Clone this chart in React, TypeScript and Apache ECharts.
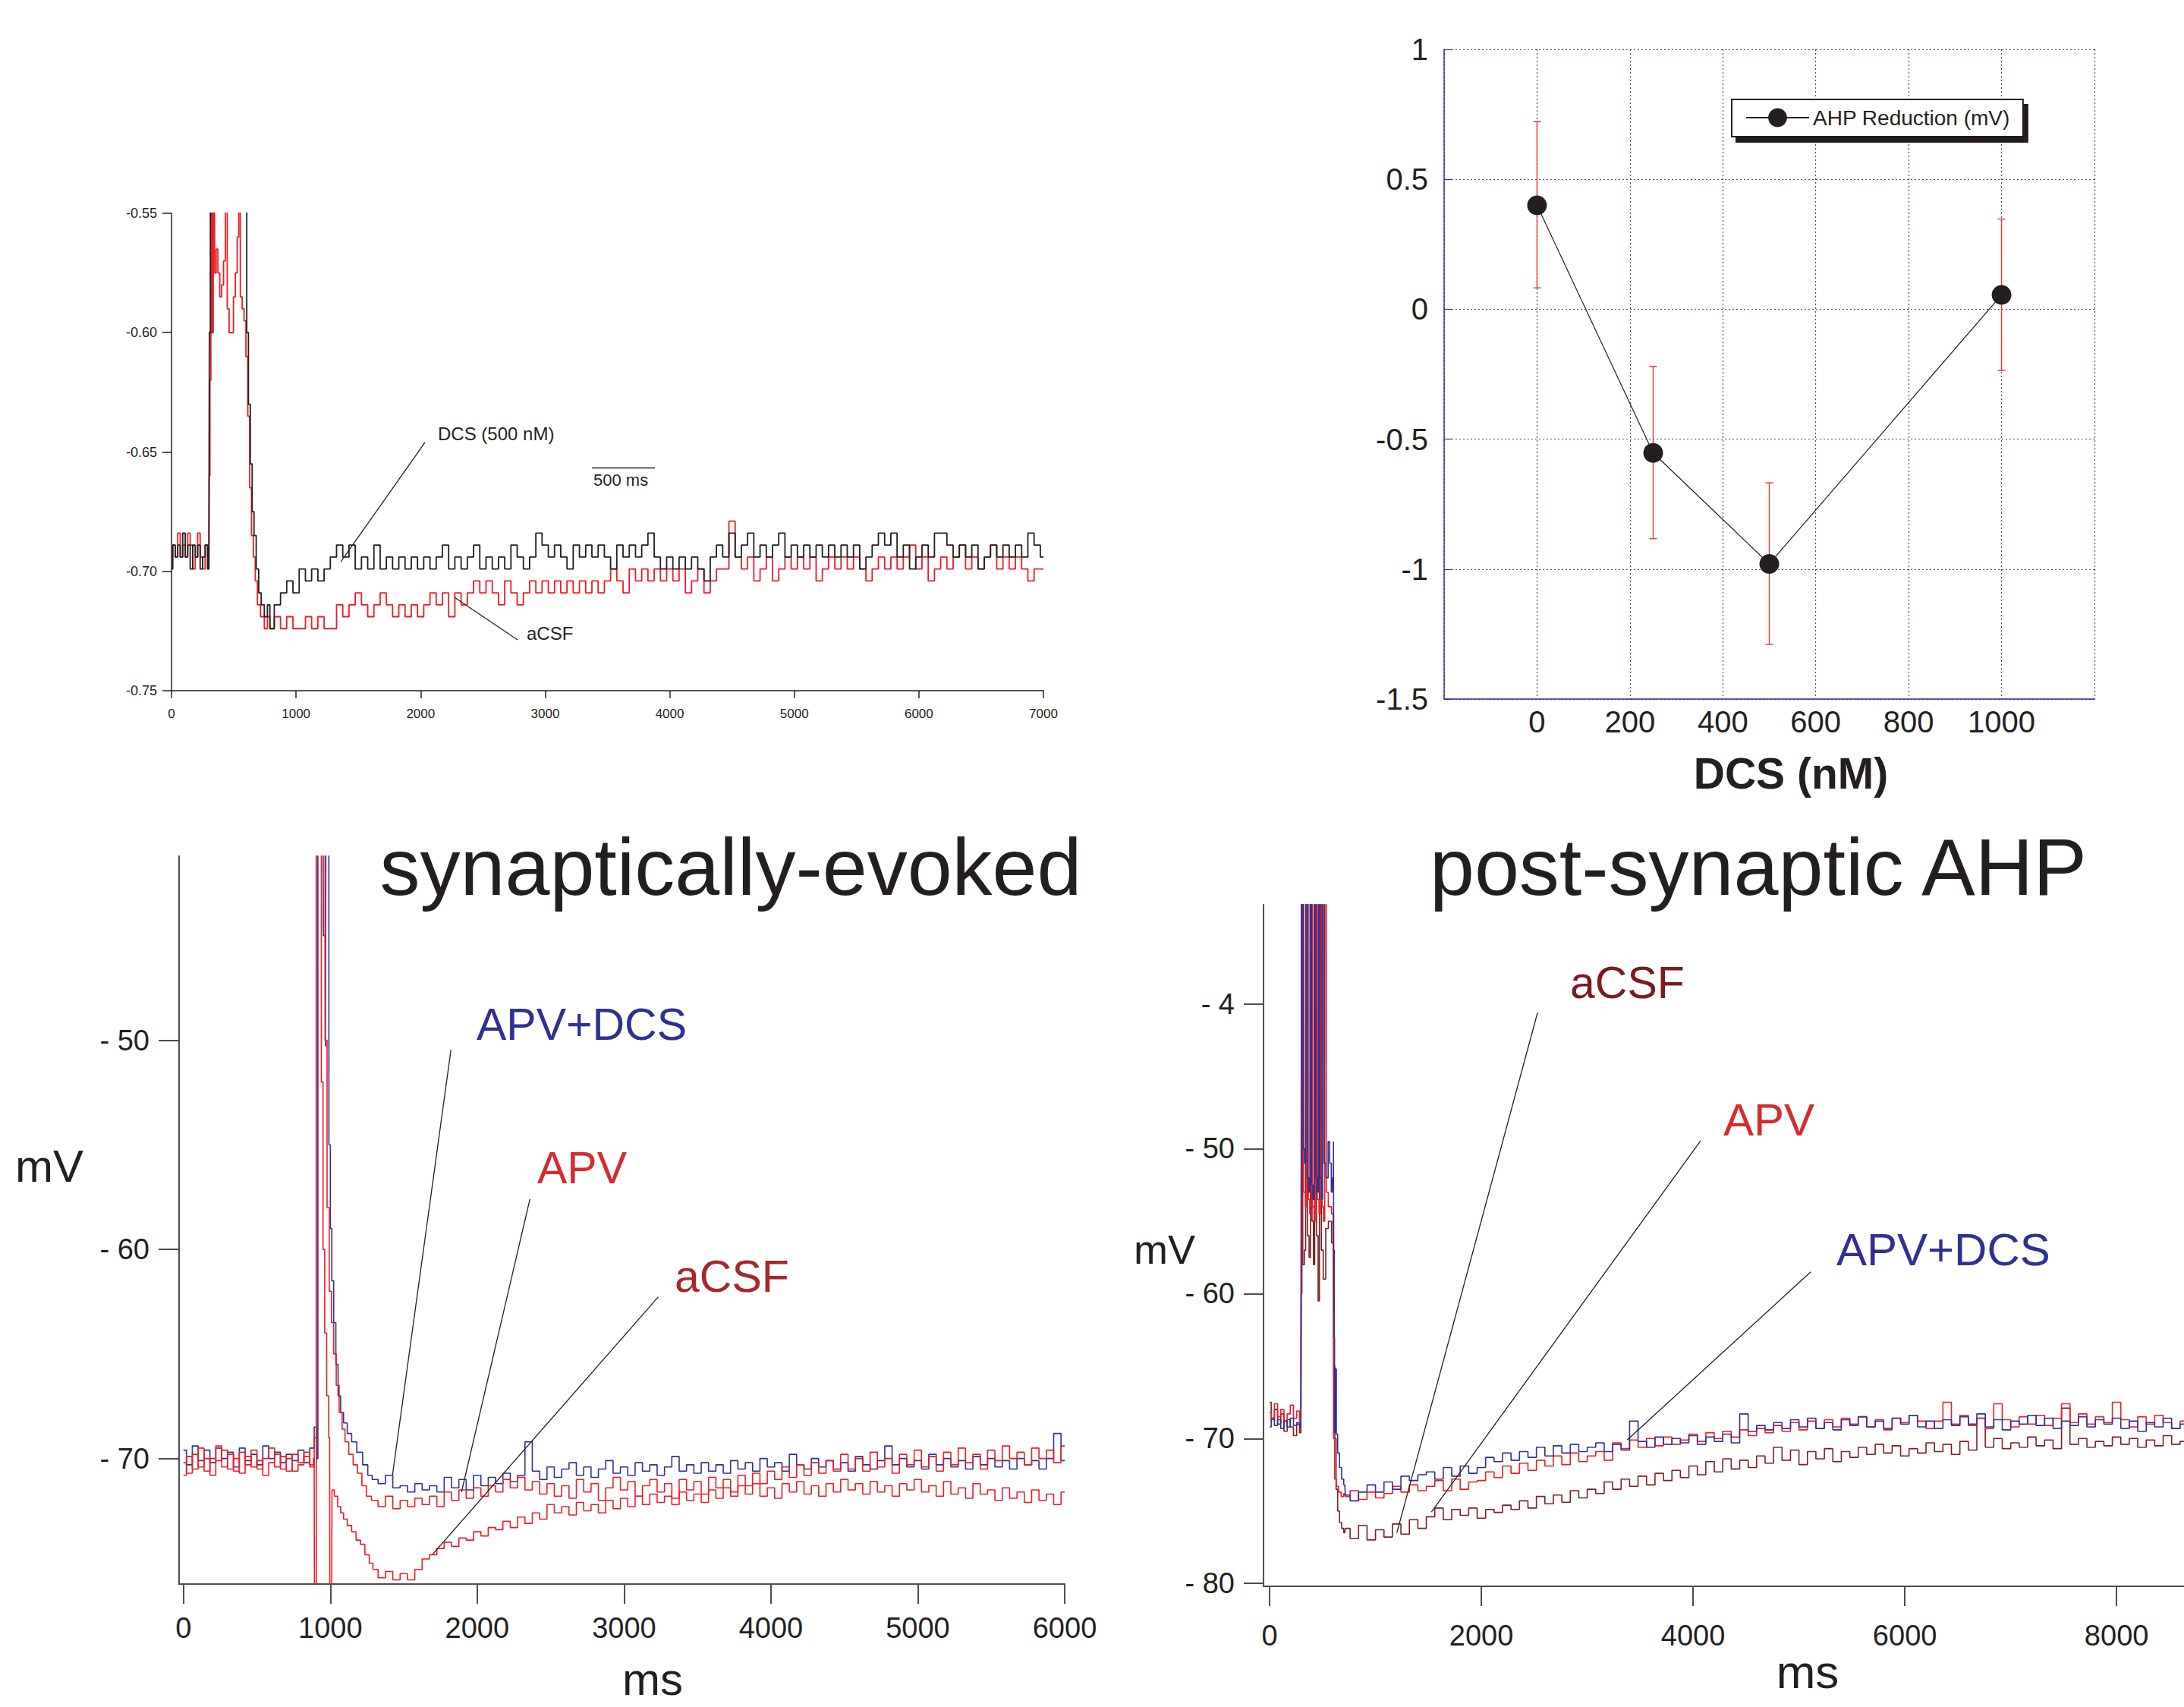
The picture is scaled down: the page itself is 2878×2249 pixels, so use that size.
import React, { useEffect, useRef } from 'react';
import * as echarts from 'echarts';

const FONT = '"Liberation Sans", Arial, Helvetica, sans-serif';
const INK = '#231f20';
const RED = '#ed1c24';
const BLUE = '#2e3192';
const MAROON = '#7b1f24';
const GRID_BLUE = '#3b4aa6';
const AXIS_GRAY = '#4d4d4f';

// ---------------- Panel A (top-left): DCS (500 nM) vs aCSF, V ----------------
const aXTicks = [0, 1000, 2000, 3000, 4000, 5000, 6000, 7000];
const aYTicks = [-0.75, -0.7, -0.65, -0.6, -0.55];
const aTailStart = 800;
const aTailStep = 50;
const aAcsfPre = [[0,-0.694],[20,-0.689],[40,-0.694],[60,-0.684],[80,-0.694],[100,-0.689],[120,-0.694],[140,-0.684],[160,-0.689],[180,-0.699],[200,-0.694],[220,-0.684],[240,-0.694],[260,-0.699],[280,-0.689],[300,-0.699],[305,-0.66],[312,-0.62],[320,-0.545],[330,-0.6],[340,-0.545],[352,-0.575],[365,-0.565],[380,-0.575],[395,-0.585],[410,-0.58],[425,-0.57],[440,-0.545],[455,-0.59],[470,-0.6],[490,-0.6],[505,-0.585],[520,-0.575],[535,-0.56],[545,-0.545],[560,-0.585],[575,-0.59],[590,-0.595],[605,-0.61],[620,-0.635],[635,-0.665],[650,-0.685],[665,-0.694],[680,-0.704],[700,-0.714],[730,-0.719],[760,-0.724],[780,-0.719]];
const aAcsfTail = [
  -0.724,-0.719,-0.724,-0.719,-0.724,-0.724,-0.719,-0.724,-0.719,-0.724,
  -0.724,-0.714,-0.719,-0.714,-0.709,-0.714,-0.719,-0.714,-0.709,-0.714,
  -0.719,-0.714,-0.719,-0.714,-0.719,-0.714,-0.709,-0.714,-0.709,-0.719,
  -0.709,-0.714,-0.709,-0.704,-0.709,-0.704,-0.709,-0.714,-0.704,-0.709,
  -0.714,-0.709,-0.704,-0.709,-0.704,-0.709,-0.704,-0.709,-0.704,-0.709,
  -0.704,-0.709,-0.704,-0.709,-0.704,-0.699,-0.704,-0.709,-0.699,-0.704,
  -0.699,-0.704,-0.699,-0.704,-0.699,-0.704,-0.699,-0.709,-0.704,-0.699,
  -0.709,-0.704,-0.699,-0.699,-0.679,-0.694,-0.699,-0.694,-0.704,-0.699,
  -0.694,-0.704,-0.699,-0.694,-0.699,-0.694,-0.699,-0.694,-0.704,-0.699,
  -0.694,-0.699,-0.694,-0.699,-0.694,-0.699,-0.704,-0.699,-0.694,-0.699,
  -0.694,-0.699,-0.694,-0.689,-0.699,-0.694,-0.704,-0.699,-0.694,-0.699,
  -0.694,-0.689,-0.699,-0.694,-0.699,-0.694,-0.689,-0.699,-0.694,-0.699,
  -0.694,-0.699,-0.704,-0.699,-0.699];
const aDcsPre = [[0,-0.699],[20,-0.689],[40,-0.694],[60,-0.689],[80,-0.694],[100,-0.684],[120,-0.694],[140,-0.689],[160,-0.699],[180,-0.689],[200,-0.694],[220,-0.689],[240,-0.699],[260,-0.694],[280,-0.689],[300,-0.699],[308,-0.6],[316,-0.53],[598,-0.53],[610,-0.6],[625,-0.63],[640,-0.655],[655,-0.675],[670,-0.685],[690,-0.699],[710,-0.709],[730,-0.714],[760,-0.719],[780,-0.714]];
const aDcsTail = [
  -0.724,-0.714,-0.709,-0.704,-0.709,-0.699,-0.704,-0.699,-0.704,-0.699,
  -0.694,-0.689,-0.694,-0.689,-0.699,-0.694,-0.699,-0.689,-0.699,-0.694,
  -0.699,-0.694,-0.699,-0.694,-0.699,-0.694,-0.699,-0.694,-0.689,-0.699,
  -0.694,-0.699,-0.694,-0.689,-0.699,-0.694,-0.699,-0.694,-0.699,-0.689,
  -0.694,-0.699,-0.694,-0.684,-0.689,-0.694,-0.689,-0.694,-0.699,-0.689,
  -0.694,-0.689,-0.694,-0.689,-0.694,-0.699,-0.689,-0.694,-0.689,-0.694,
  -0.689,-0.684,-0.694,-0.699,-0.694,-0.699,-0.694,-0.699,-0.694,-0.699,
  -0.704,-0.694,-0.689,-0.694,-0.684,-0.694,-0.689,-0.684,-0.694,-0.689,
  -0.694,-0.689,-0.684,-0.694,-0.689,-0.694,-0.689,-0.694,-0.689,-0.694,
  -0.689,-0.694,-0.689,-0.694,-0.689,-0.699,-0.694,-0.689,-0.684,-0.689,
  -0.684,-0.694,-0.689,-0.699,-0.694,-0.689,-0.694,-0.684,-0.684,-0.689,
  -0.694,-0.689,-0.694,-0.689,-0.699,-0.694,-0.689,-0.694,-0.689,-0.694,
  -0.689,-0.694,-0.684,-0.689,-0.694];
const aLeaders = [
  [[2035, -0.646], [1359, -0.696]],
  [[2272, -0.7109], [2778, -0.7287]],
];
const aScaleBar = [[3375, -0.6565], [3881, -0.6565]];

// ---------------- Panel B (top-right): AHP reduction vs DCS dose ----------------
const bDose = [0, 250, 500, 1000];
const bMean = [0.40, -0.553, -0.98, 0.055];
const bLow = [0.082, -0.883, -1.29, -0.236];
const bHigh = [0.722, -0.22, -0.668, 0.347];

// ---------------- Panel C (bottom-left): synaptically-evoked ----------------
const cXTicks = [0, 1000, 2000, 3000, 4000, 5000, 6000];
const cYTicks = [-50, -60, -70];
const cTailStart = 1300;
const cTailStep = 50;
const cBluePre = [[0,-69.6],[40,-70.3],[80,-69.4],[120,-70.1],[160,-69.6],[200,-70.2],[240,-69.5],[280,-70.0],[320,-69.7],[360,-70.4],[400,-69.5],[440,-70.1],[480,-69.8],[520,-70.3],[560,-69.4],[600,-70.0],[640,-69.7],[680,-70.2],[720,-69.8],[760,-70.1],[800,-69.6],[840,-70.2],[880,-69.5],[900,-68.5],[910,-70.0],[920,-38],[950,-38],[955,-45],[965,-45],[968,-50.3],[972,-38],[985,-38],[995,-55],[1005,-59],[1015,-61.5],[1030,-63.5],[1045,-65.5],[1060,-67],[1080,-67.8],[1100,-68.3],[1130,-68.8],[1160,-69.2],[1200,-69.7],[1240,-70.3],[1270,-70.8]];
const cBlueTail = [
  -71.0,-71.2,-70.8,-71.4,-71.3,-71.6,-71.2,-71.5,-71.3,-71.6,
  -70.9,-71.4,-71.0,-71.5,-70.8,-71.3,-70.9,-71.2,-70.7,-71.1,
  -70.8,-69.2,-70.6,-71.0,-70.4,-70.9,-70.5,-70.2,-70.8,-70.4,
  -70.9,-70.5,-70.1,-70.7,-70.4,-70.8,-70.2,-70.6,-70.3,-70.8,
  -70.4,-69.9,-70.6,-70.3,-70.7,-70.2,-70.6,-70.3,-70.7,-70.1,
  -70.5,-70.2,-70.6,-70.0,-70.4,-70.2,-70.6,-69.8,-70.3,-70.5,
  -70.0,-70.4,-70.1,-70.5,-70.2,-70.6,-69.9,-70.3,-70.5,-70.1,
  -69.4,-70.3,-70.0,-70.4,-70.1,-70.5,-69.8,-70.3,-70.0,-70.4,
  -70.1,-70.5,-69.9,-70.3,-70.0,-70.4,-70.1,-70.5,-70.0,-70.3,
  -70.1,-70.5,-70.0,-68.8,-70.1];
const cApvPre = [[0,-70.8],[40,-69.9],[80,-70.5],[120,-69.5],[160,-70.6],[200,-70.0],[240,-69.4],[280,-70.4],[320,-69.8],[360,-70.6],[400,-69.7],[440,-70.3],[480,-69.6],[520,-70.5],[560,-70.0],[600,-69.5],[640,-70.4],[680,-69.9],[720,-70.6],[760,-69.8],[800,-70.2],[840,-69.7],[880,-70.3],[890,-70.0],[895,-80],[902,-80],[906,-38],[958,-38],[970,-50],[985,-58],[1000,-62],[1015,-63.5],[1030,-65],[1050,-66.5],[1070,-67.8],[1090,-68.6],[1110,-69.2],[1140,-69.8],[1170,-70.3],[1200,-70.7],[1230,-71.3],[1260,-71.8]];
const cApvTail = [
  -72.0,-72.3,-71.8,-72.4,-72.0,-72.3,-71.9,-72.2,-71.8,-72.3,
  -71.6,-72.0,-71.5,-71.9,-71.4,-71.8,-71.3,-71.6,-71.0,-71.4,
  -70.9,-71.5,-71.1,-71.7,-71.2,-71.8,-71.3,-71.9,-71.0,-71.6,
  -71.2,-72.0,-71.4,-70.9,-71.5,-71.1,-71.8,-71.3,-71.0,-71.6,
  -71.2,-71.9,-71.0,-71.5,-71.1,-71.7,-70.9,-71.4,-71.0,-71.6,
  -70.8,-71.3,-70.7,-71.2,-70.6,-71.0,-70.4,-70.9,-70.3,-70.8,
  -70.2,-70.7,-70.1,-70.6,-69.8,-70.5,-70.0,-70.6,-69.7,-70.4,
  -70.0,-70.7,-69.8,-70.3,-69.6,-70.4,-69.9,-70.6,-69.7,-70.3,
  -69.5,-70.2,-69.8,-70.5,-69.6,-70.1,-69.4,-70.0,-69.7,-70.3,
  -69.5,-70.0,-69.6,-70.2,-69.4];
const cAcsfPre = [[0,-70.2],[40,-70.7],[80,-69.8],[120,-70.4],[160,-70.0],[200,-70.8],[240,-70.1],[280,-69.6],[320,-70.5],[360,-70.0],[400,-70.7],[440,-69.9],[480,-70.4],[520,-70.1],[560,-70.8],[600,-70.2],[640,-69.8],[680,-70.5],[720,-70.0],[760,-70.6],[800,-70.3],[840,-69.9],[880,-70.4],[900,-69.0],[908,-38],[932,-38],[945,-52],[955,-60],[968,-64],[982,-67],[995,-69],[1000,-80],[1008,-80],[1014,-71.5],[1040,-71.8],[1060,-72.3],[1080,-72.6],[1100,-72.9],[1130,-73.2],[1160,-73.5],[1190,-73.9],[1220,-74.1],[1250,-74.6],[1280,-75.0]];
const cAcsfTail = [
  -75.3,-75.7,-75.4,-75.8,-75.5,-75.8,-75.3,-74.8,-74.6,-74.3,
  -74.0,-74.2,-73.8,-73.9,-73.5,-73.7,-73.3,-73.4,-73.0,-73.3,
  -72.8,-73.1,-72.6,-72.9,-72.2,-72.6,-72.3,-72.7,-72.1,-72.5,
  -72.2,-72.6,-72.0,-72.4,-71.9,-72.3,-71.8,-72.2,-71.7,-72.1,
  -71.8,-72.2,-71.6,-72.0,-71.7,-72.1,-71.5,-71.9,-71.4,-71.8,
  -71.3,-71.7,-71.2,-71.8,-71.4,-71.9,-71.2,-71.6,-71.1,-71.7,
  -71.3,-71.8,-71.2,-71.6,-71.0,-71.5,-71.2,-71.7,-71.1,-71.6,
  -71.3,-71.8,-71.2,-71.5,-71.0,-71.6,-71.3,-71.8,-71.1,-71.7,
  -71.4,-71.9,-71.2,-71.7,-71.5,-72.0,-71.4,-71.9,-71.6,-72.1,
  -71.5,-72.0,-71.7,-72.2,-71.6];
const cLeaders = [
  [[1821, -50.47], [1423, -70.8]],
  [[2359, -57.59], [1893, -71.6]],
  [[3233, -62.27], [1697, -74.57]],
];

// ---------------- Panel D (bottom-right): post-synaptic AHP ----------------
const dXTicks = [0, 2000, 4000, 6000, 8000];
const dYTicks = [-40, -50, -60, -70, -80];
const dYLabels = ['- 4', '- 50', '- 60', '- 70', '- 80'];
const dTailStart = 720;
const dTailStep = 80;
const dAcsfPre = [[0,-67.5],[30,-68.6],[60,-68.0],[90,-69.0],[120,-68.3],[150,-69.5],[180,-68.7],[210,-69.2],[240,-69.8],[270,-69.0],[295,-69.6],[300,-60],[302,-20],[310,-20],[316,-58],[340,-57],[346,-20],[353,-20],[360,-56],[385,-57.5],[390,-20],[397,-20],[403,-55],[425,-58],[432,-20],[440,-20],[446,-56],[470,-60.5],[478,-20],[486,-20],[492,-57],[520,-59],[540,-55.5],[570,-55],[600,-56.5],[608,-57],[612,-65],[620,-70],[635,-73.5],[650,-75],[670,-75.8],[690,-76.2],[710,-76.5]];
const dAcsfTail = [
  -76.2,-76.9,-76.0,-77.0,-76.3,-76.8,-75.9,-76.6,-75.6,-76.2,
  -75.4,-74.8,-75.6,-74.9,-75.3,-74.8,-75.5,-74.9,-75.1,-74.6,
  -74.9,-74.3,-74.8,-74.0,-74.5,-73.9,-74.4,-73.6,-74.1,-73.5,
  -73.8,-73.0,-73.5,-72.8,-73.3,-72.6,-73.2,-72.4,-72.9,-72.2,
  -72.7,-71.9,-72.5,-71.6,-72.3,-71.4,-72.1,-71.5,-72.0,-71.2,
  -71.7,-70.6,-71.5,-70.8,-71.8,-70.9,-71.4,-70.7,-71.6,-70.9,
  -71.3,-70.6,-71.1,-70.4,-71.0,-70.5,-71.2,-70.7,-71.0,-70.3,
  -70.9,-70.4,-71.1,-70.2,-70.8,-68.6,-70.6,-70.0,-70.7,-70.3,
  -70.6,-69.9,-70.5,-70.1,-70.7,-67.9,-70.4,-70.0,-70.6,-70.2,
  -70.5,-69.9,-70.4,-70.0,-70.6,-70.1,-70.5,-69.8,-70.4,-70.2];
const dApvPre = [[0,-68.2],[30,-68.7],[60,-67.6],[90,-68.5],[120,-68.0],[150,-68.8],[180,-68.3],[210,-67.7],[240,-68.6],[270,-68.1],[295,-68.8],[300,-60],[310,-20],[318,-20],[325,-53],[350,-54],[355,-20],[362,-20],[368,-53.5],[390,-54.5],[395,-20],[402,-20],[408,-54],[430,-55],[440,-20],[447,-20],[453,-53.5],[480,-54.5],[485,-20],[492,-20],[498,-54],[520,-55],[525,-20],[532,-20],[538,-53],[570,-54],[600,-54.5],[608,-70],[620,-72.8],[640,-73.3],[660,-73.7],[690,-74],[710,-73.8]];
const dApvTail = [
  -74.0,-73.6,-74.2,-73.7,-74.1,-73.8,-73.3,-73.7,-73.2,-73.6,
  -73.3,-72.9,-73.6,-72.8,-73.5,-73.0,-72.9,-72.3,-72.7,-71.9,
  -72.4,-71.7,-72.2,-71.5,-71.9,-71.2,-71.8,-71.0,-71.6,-71.2,
  -70.9,-71.5,-70.3,-70.7,-70.1,-70.6,-70.0,-70.5,-69.9,-70.4,
  -70.1,-69.7,-70.2,-69.6,-70.0,-69.5,-69.9,-69.4,-69.8,-69.3,
  -69.6,-69.1,-69.5,-68.9,-69.4,-68.8,-69.3,-68.7,-69.2,-68.6,
  -69.0,-68.5,-69.2,-68.7,-69.4,-68.6,-68.9,-68.4,-68.8,-69.3,
  -68.8,-67.5,-69.0,-68.4,-69.1,-68.6,-69.3,-67.6,-68.7,-69.2,
  -68.5,-69.0,-68.4,-69.1,-68.6,-67.6,-68.9,-68.3,-69.0,-68.5,
  -68.9,-67.5,-68.7,-69.2,-68.5,-69.0,-68.4,-68.9,-69.3,-68.8];
const dBluePre = [[0,-69.2],[30,-68.6],[60,-69.1],[90,-68.7],[120,-69.3],[150,-68.8],[180,-69.2],[210,-68.6],[240,-69.1],[270,-68.9],[295,-69.2],[300,-60],[305,-20],[315,-20],[320,-50],[340,-51],[345,-20],[352,-20],[358,-52],[380,-53],[385,-20],[392,-20],[398,-52.5],[420,-53.5],[425,-20],[432,-20],[438,-52],[460,-53],[465,-20],[472,-20],[478,-52],[500,-53.5],[505,-20],[512,-20],[518,-51],[545,-52],[560,-49.5],[575,-51],[590,-53],[600,-52],[605,-49.5],[610,-63],[616,-69.6],[625,-65.2],[635,-69.7],[650,-71],[670,-72],[690,-72.8],[710,-73.2]];
const dBlueTail = [
  -73.9,-74.3,-73.7,-73.2,-73.7,-73.0,-73.5,-72.6,-72.9,-72.5,
  -72.3,-72.8,-72.0,-72.6,-71.9,-72.4,-72.0,-71.3,-71.6,-71.0,
  -71.5,-70.9,-71.3,-70.6,-71.2,-70.5,-71.0,-70.4,-70.9,-70.6,
  -70.3,-70.9,-70.4,-70.8,-68.8,-70.2,-70.6,-69.9,-70.4,-70.0,
  -70.3,-69.8,-70.4,-69.9,-70.2,-69.7,-70.3,-68.3,-69.5,-69.1,
  -69.4,-68.9,-69.3,-68.7,-69.2,-68.6,-69.3,-68.9,-69.4,-68.7,
  -69.1,-68.5,-69.2,-68.8,-69.3,-68.6,-69.0,-68.4,-69.2,-68.8,
  -69.3,-68.7,-69.1,-68.5,-69.0,-68.3,-69.2,-68.7,-69.4,-68.8,
  -69.0,-68.4,-69.1,-68.6,-69.3,-68.8,-69.1,-68.5,-69.2,-68.7,
  -69.0,-68.6,-69.3,-68.8,-69.5,-68.9,-69.2,-68.6,-69.3,-69.0];
const dLeaders = [
  [[2531, -40.6], [1202, -76.5]],
  [[4070, -49.46], [1528, -75.07]],
  [[5111, -58.5], [3377, -70.1]],
];

// ---------------- helpers ----------------
function trace(pre: number[][], start: number, step: number, tail: number[]) {
  return pre.concat(tail.map((v, i) => [start + i * step, v]));
}
function leaderData(pairs: number[][][]) {
  return pairs.map((p) => [{ coord: p[0] }, { coord: p[1] }]);
}
function markLines(pairs: number[][][]) {
  return {
    silent: true,
    symbol: ['none', 'none'],
    label: { show: false },
    emphasis: { disabled: true },
    lineStyle: { color: INK, width: 1.3, type: 'solid' },
    data: leaderData(pairs),
  };
}
function traceSeries(name: string, data: number[][], color: string, xi: number, width: number, extra: any = {}) {
  return {
    name,
    type: 'line',
    xAxisIndex: xi,
    yAxisIndex: xi,
    data,
    step: 'middle',
    symbol: 'none',
    showSymbol: false,
    silent: true,
    clip: true,
    lineStyle: { color, width },
    itemStyle: { color },
    emphasis: { disabled: true },
    ...extra,
  };
}
function txt(text: string, x: number, y: number, size: number, color: string, align = 'left', weight = 'normal') {
  return {
    type: 'text',
    x,
    y,
    silent: true,
    z: 100,
    style: {
      text,
      fill: color,
      fontSize: size,
      fontFamily: FONT,
      fontWeight: weight,
      align,
      verticalAlign: 'middle',
      textAlign: align,
      textVerticalAlign: 'middle',
    },
  };
}
const plain = (v: number) => String(v);

function buildOption() {
  const tickLbl = (size: number, margin: number, extra: any = {}) => ({
    fontSize: size,
    fontFamily: FONT,
    color: INK,
    margin,
    ...extra,
  });
  const xAxis: any[] = [
    {
      gridIndex: 0, type: 'value', min: 0, max: 7000,
      axisLine: { show: true, onZero: false, lineStyle: { color: INK, width: 1.5 } },
      axisTick: { show: true, length: 10, customValues: aXTicks, lineStyle: { color: INK, width: 1.5 } },
      axisLabel: tickLbl(17, 22, { customValues: aXTicks, formatter: plain }),
      splitLine: { show: false },
    },
    {
      gridIndex: 1, type: 'value', min: -200, max: 1200, interval: 200,
      axisLine: { show: true, onZero: false, lineStyle: { color: BLUE, width: 1.5 } },
      axisTick: { show: false },
      axisLabel: tickLbl(40, 10, { formatter: (v: number) => (v < 0 || v > 1000 ? '' : String(v)) }),
      splitLine: { show: true, lineStyle: { color: GRID_BLUE, type: [2, 3], width: 1.2 } },
    },
    {
      gridIndex: 2, type: 'value', min: -30, max: 6000,
      axisLine: { show: true, onZero: false, lineStyle: { color: AXIS_GRAY, width: 2 } },
      axisTick: { show: true, length: 26, customValues: cXTicks, lineStyle: { color: AXIS_GRAY, width: 2 } },
      axisLabel: tickLbl(38, 39, { customValues: cXTicks, formatter: plain }),
      splitLine: { show: false },
    },
    {
      gridIndex: 3, type: 'value', min: -58, max: 8637,
      axisLine: { show: true, onZero: false, lineStyle: { color: AXIS_GRAY, width: 2 } },
      axisTick: { show: true, length: 26, customValues: dXTicks, lineStyle: { color: AXIS_GRAY, width: 2 } },
      axisLabel: tickLbl(38, 46, { customValues: dXTicks, formatter: plain }),
      splitLine: { show: false },
    },
  ];
  const yAxis: any[] = [
    {
      gridIndex: 0, type: 'value', min: -0.75, max: -0.55,
      axisLine: { show: true, onZero: false, lineStyle: { color: INK, width: 1.5 } },
      axisTick: { show: true, length: 12, customValues: aYTicks, lineStyle: { color: INK, width: 1.5 } },
      axisLabel: tickLbl(18, 19, { customValues: aYTicks, formatter: (v: number) => v.toFixed(2) }),
      splitLine: { show: false },
    },
    {
      gridIndex: 1, type: 'value', min: -1.5, max: 1, interval: 0.5,
      axisLine: { show: true, onZero: false, lineStyle: { color: BLUE, width: 1.5 } },
      axisTick: { show: true, inside: true, length: 10, lineStyle: { color: BLUE, width: 1.2 } },
      axisLabel: tickLbl(40, 21),
      splitLine: { show: true, lineStyle: { color: GRID_BLUE, type: [2, 3], width: 1.2 } },
    },
    {
      gridIndex: 2, type: 'value', min: -76, max: -41.2,
      axisLine: { show: true, onZero: false, lineStyle: { color: AXIS_GRAY, width: 2 } },
      axisTick: { show: true, length: 27, customValues: cYTicks, lineStyle: { color: AXIS_GRAY, width: 2 } },
      axisLabel: tickLbl(38, 39, { customValues: cYTicks, formatter: (v: number) => '- ' + Math.abs(v) }),
      splitLine: { show: false },
    },
    {
      gridIndex: 3, type: 'value', min: -80.2, max: -33.16,
      axisLine: { show: true, onZero: false, lineStyle: { color: AXIS_GRAY, width: 2 } },
      axisTick: { show: true, length: 26, customValues: dYTicks, lineStyle: { color: AXIS_GRAY, width: 2 } },
      axisLabel: tickLbl(38, 38, {
        customValues: dYTicks,
        formatter: (v: number) => {
          const i = dYTicks.indexOf(Math.round(v));
          return i >= 0 ? dYLabels[i] : '';
        },
      }),
      splitLine: { show: false },
    },
  ];

  const errData = bDose.map((d, i) => [d, bLow[i], bHigh[i]]);
  const series: any[] = [
    traceSeries('aCSF (A)', trace(aAcsfPre, aTailStart, aTailStep, aAcsfTail), RED, 0, 1.8),
    traceSeries('DCS (A)', trace(aDcsPre, aTailStart, aTailStep, aDcsTail), INK, 0, 1.8, {
      markLine: markLines([...aLeaders, aScaleBar]),
    }),
    {
      name: 'error',
      type: 'custom',
      xAxisIndex: 1,
      yAxisIndex: 1,
      silent: true,
      z: 2,
      data: errData,
      encode: { x: 0, y: [1, 2] },
      renderItem: (params: any, api: any) => {
        const x = api.value(0);
        const lo = api.value(1);
        const hi = api.value(2);
        const p1 = api.coord([x, hi]);
        const p2 = api.coord([x, lo]);
        const w = 5;
        const st = { stroke: '#e53a2f', lineWidth: 1.4 };
        return {
          type: 'group',
          children: [
            { type: 'line', shape: { x1: p1[0], y1: p1[1], x2: p2[0], y2: p2[1] }, style: st },
            { type: 'line', shape: { x1: p1[0] - w, y1: p1[1], x2: p1[0] + w, y2: p1[1] }, style: st },
            { type: 'line', shape: { x1: p2[0] - w, y1: p2[1], x2: p2[0] + w, y2: p2[1] }, style: st },
          ],
        };
      },
    },
    {
      name: 'AHP Reduction (mV)',
      type: 'line',
      xAxisIndex: 1,
      yAxisIndex: 1,
      z: 4,
      silent: true,
      data: bDose.map((d, i) => [d, bMean[i]]),
      symbol: 'circle',
      symbolSize: 26,
      lineStyle: { color: INK, width: 1.2 },
      itemStyle: { color: INK },
      emphasis: { disabled: true },
    },
    traceSeries('APV+DCS (C)', trace(cBluePre, cTailStart, cTailStep, cBlueTail), BLUE, 2, 1.6),
    traceSeries('APV (C)', trace(cApvPre, cTailStart, cTailStep, cApvTail), RED, 2, 1.6),
    traceSeries('aCSF (C)', trace(cAcsfPre, cTailStart, cTailStep, cAcsfTail), RED, 2, 1.6, {
      markLine: markLines(cLeaders),
    }),
    traceSeries('aCSF (D)', trace(dAcsfPre, dTailStart, dTailStep, dAcsfTail), MAROON, 3, 1.6),
    traceSeries('APV (D)', trace(dApvPre, dTailStart, dTailStep, dApvTail), RED, 3, 1.6),
    traceSeries('APV+DCS (D)', trace(dBluePre, dTailStart, dTailStep, dBlueTail), BLUE, 3, 1.6, {
      markLine: markLines(dLeaders),
    }),
  ];

  return {
    animation: false,
    backgroundColor: '#ffffff',
    textStyle: { fontFamily: FONT },
    grid: [
      { left: 226, top: 281, width: 1149, height: 629, containLabel: false },
      { left: 1903, top: 65, width: 857, height: 856, containLabel: false },
      { left: 236, top: 1128, width: 1167, height: 959, containLabel: false },
      { left: 1665, top: 1192, width: 1213, height: 898, containLabel: false },
    ],
    xAxis,
    yAxis,
    legend: {
      show: true,
      data: ['AHP Reduction (mV)'],
      left: 2282,
      top: 131,
      orient: 'horizontal',
      selectedMode: false,
      itemWidth: 83,
      itemHeight: 31,
      padding: [10, 17, 11, 18],
      backgroundColor: '#ffffff',
      borderColor: INK,
      borderWidth: 2,
      shadowColor: INK,
      shadowOffsetX: 6,
      shadowOffsetY: 7,
      shadowBlur: 0,
      textStyle: { fontSize: 28, color: INK, fontFamily: FONT },
    },
    graphic: {
      elements: [
        txt('DCS (500 nM)', 577, 571, 24, INK),
        txt('500 ms', 782, 632, 22, INK),
        txt('aCSF', 694, 834, 24, INK),
        txt('DCS (nM)', 2360, 1019, 57, INK, 'center', 'bold'),
        txt('synaptically-evoked', 963, 1142, 106, INK, 'center'),
        txt('post-synaptic AHP', 2317, 1142, 106, INK, 'center'),
        txt('mV', 20, 1536, 60, INK),
        txt('ms', 860, 2212, 60, INK, 'center'),
        txt('APV+DCS', 628, 1350, 59, BLUE),
        txt('APV', 708, 1539, 59, '#d52b30'),
        txt('aCSF', 889, 1682, 59, '#a5282c'),
        txt('mV', 1494, 1646, 54, INK),
        txt('ms', 2382, 2202, 62, INK, 'center'),
        txt('aCSF', 2069, 1295, 59, '#7a1c22'),
        txt('APV', 2271, 1475, 60, '#d42b2f'),
        txt('APV+DCS', 2420, 1646, 60, BLUE),
      ],
    },
    series,
  };
}

export default function App() {
  const ref = useRef<HTMLDivElement>(null);
  useEffect(() => {
    document.body.style.margin = '0';
    const el = ref.current;
    if (!el) return;
    const chart = echarts.init(el, null, { renderer: 'svg' });
    chart.setOption(buildOption() as any);
    return () => {
      chart.dispose();
    };
  }, []);
  return (
    <div
      ref={ref}
      style={{ position: 'absolute', left: 0, top: 0, width: 2878, height: 2249, background: '#ffffff', overflow: 'hidden' }}
    />
  );
}
